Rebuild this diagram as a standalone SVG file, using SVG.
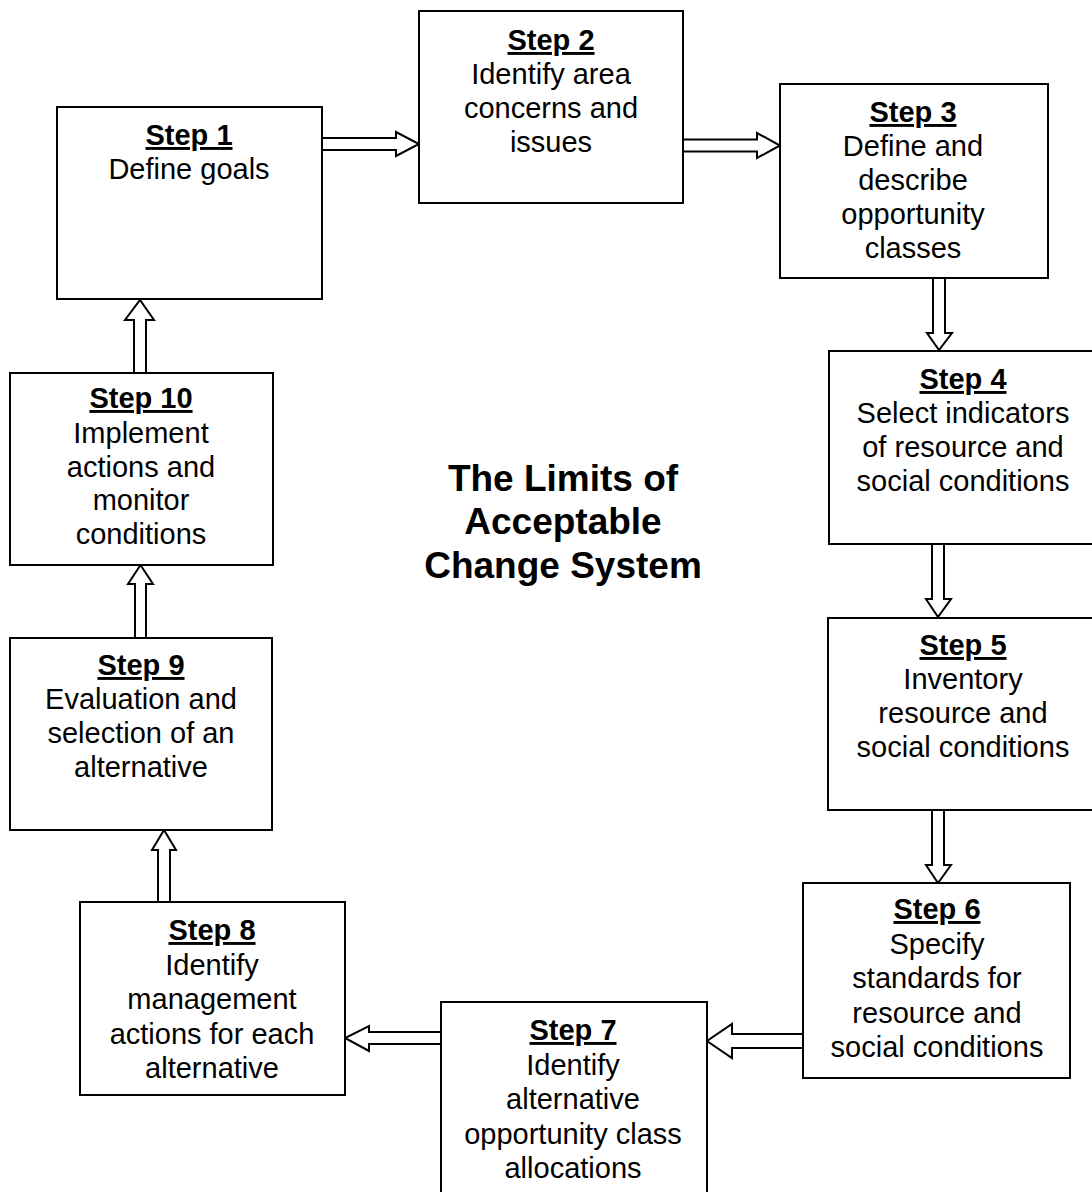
<svg xmlns="http://www.w3.org/2000/svg" width="1092" height="1192" viewBox="0 0 1092 1192">
<style>
.box{fill:#fff;stroke:#000;stroke-width:2}
.arr{fill:#fff;stroke:#000;stroke-width:2;stroke-linejoin:miter}
text{font-family:"Liberation Sans",Arial,sans-serif;font-size:29px;fill:#000;text-anchor:middle}
.h{font-weight:bold;text-decoration:underline}
.title{font-weight:bold;font-size:37px}
</style>
<rect width="1092" height="1192" fill="#fff"/>
<g id="connectors">
<path class="arr" d="M322,138 H396 V132 L419,144 L396,156 V150 H322 Z"/>
<path class="arr" d="M683,139.5 H757 V133 L780,145.5 L757,158 V151.5 H683 Z"/>
<path class="arr" d="M933,278 V333 H927 L939,350 L952,333 H945 V278 Z"/>
<path class="arr" d="M932,544 V599 H926 L938,617 L951,599 H944 V544 Z"/>
<path class="arr" d="M932,810 V865 H926 L938,883 L951,865 H944 V810 Z"/>
<path class="arr" d="M803,1034 H732 V1024 L707,1041 L732,1058 V1048 H803 Z"/>
<path class="arr" d="M441,1032 H369 V1026 L345,1038 L369,1051 V1044 H441 Z"/>
<path class="arr" d="M158,902 V850 H152 L164,830 L176,850 H170 V902 Z"/>
<path class="arr" d="M135,638 V584 H128 L140.5,565 L153,584 H146 V638 Z"/>
<path class="arr" d="M134,373 V320 H125 L140,300 L154,320 H146 V373 Z"/>
</g>
<g id="step1">
<rect class="box" x="57" y="107" width="265" height="192"/>
<text x="189" y="145" class="h">Step 1</text>
<text x="189" y="179">Define goals</text>
</g>
<g id="step2">
<rect class="box" x="419" y="11" width="264" height="192"/>
<text x="551" y="50" class="h">Step 2</text>
<text x="551" y="84">Identify area</text>
<text x="551" y="118">concerns and</text>
<text x="551" y="152">issues</text>
</g>
<g id="step3">
<rect class="box" x="780" y="84" width="268" height="194"/>
<text x="913" y="122" class="h">Step 3</text>
<text x="913" y="156">Define and</text>
<text x="913" y="190">describe</text>
<text x="913" y="224">opportunity</text>
<text x="913" y="258">classes</text>
</g>
<g id="step4">
<rect class="box" x="829" y="351" width="266" height="193"/>
<text x="963" y="389" class="h">Step 4</text>
<text x="963" y="423">Select indicators</text>
<text x="963" y="457">of resource and</text>
<text x="963" y="491">social conditions</text>
</g>
<g id="step5">
<rect class="box" x="828" y="618" width="267" height="192"/>
<text x="963" y="655" class="h">Step 5</text>
<text x="963" y="689">Inventory</text>
<text x="963" y="723">resource and</text>
<text x="963" y="757">social conditions</text>
</g>
<g id="step6">
<rect class="box" x="803" y="883" width="267" height="195"/>
<text x="937" y="919" class="h">Step 6</text>
<text x="937" y="954">Specify</text>
<text x="937" y="988">standards for</text>
<text x="937" y="1023">resource and</text>
<text x="937" y="1057">social conditions</text>
</g>
<g id="step7">
<rect class="box" x="441" y="1002" width="266" height="195"/>
<text x="573" y="1040" class="h">Step 7</text>
<text x="573" y="1075">Identify</text>
<text x="573" y="1109">alternative</text>
<text x="573" y="1144">opportunity class</text>
<text x="573" y="1178">allocations</text>
</g>
<g id="step8">
<rect class="box" x="80" y="902" width="265" height="193"/>
<text x="212" y="940" class="h">Step 8</text>
<text x="212" y="975">Identify</text>
<text x="212" y="1009">management</text>
<text x="212" y="1044">actions for each</text>
<text x="212" y="1078">alternative</text>
</g>
<g id="step9">
<rect class="box" x="10" y="638" width="262" height="192"/>
<text x="141" y="675" class="h">Step 9</text>
<text x="141" y="709">Evaluation and</text>
<text x="141" y="743">selection of an</text>
<text x="141" y="777">alternative</text>
</g>
<g id="step10">
<rect class="box" x="10" y="373" width="263" height="192"/>
<text x="141" y="408" class="h">Step 10</text>
<text x="141" y="443">Implement</text>
<text x="141" y="477">actions and</text>
<text x="141" y="510">monitor</text>
<text x="141" y="544">conditions</text>
</g>
<g id="title">
<text x="563" y="491" class="title">The Limits of</text>
<text x="563" y="534" class="title">Acceptable</text>
<text x="563" y="578" class="title">Change System</text>
</g>
</svg>
